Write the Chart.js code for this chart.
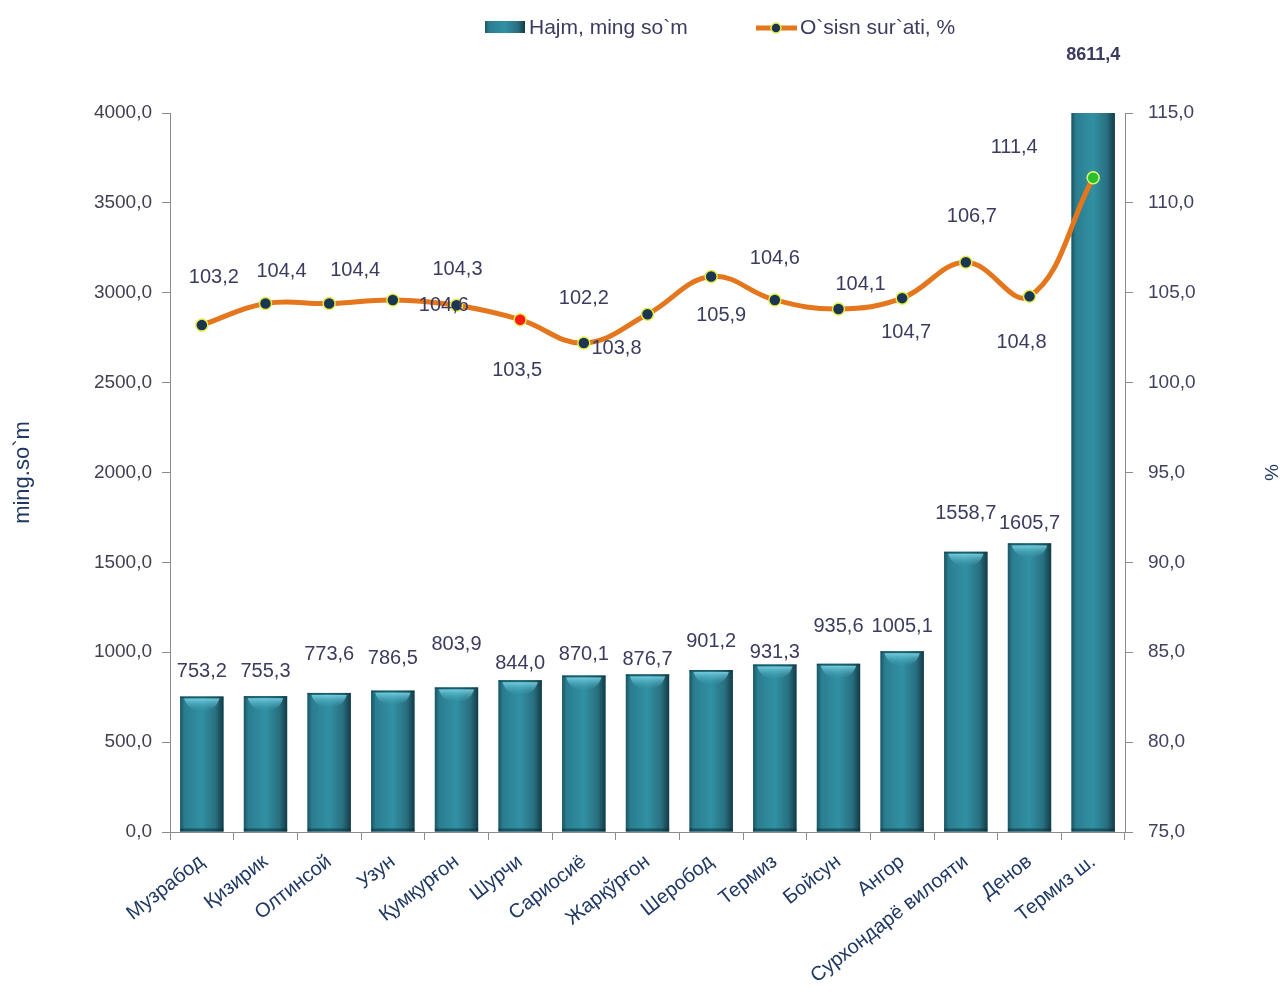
<!DOCTYPE html>
<html>
<head>
<meta charset="utf-8">
<title>Hajm va o`sish sur`ati</title>
<script src="https://cdn.jsdelivr.net/npm/chart.js@4/dist/chart.umd.min.js"></script>
<style>
    html, body { margin: 0; padding: 0; background: #fff; }
    #wrap { width: 1285px; height: 997px; position: relative; }
</style>
</head>
<body>
<div id="wrap"><canvas id="chart"></canvas></div>
<script>
// data
const categories = ["Музрабод", "Қизирик", "Олтинсой", "Узун", "Қумқурғон", "Шурчи", "Сариосиё",
    "Жарқўрғон", "Шеробод", "Термиз", "Бойсун", "Ангор", "Сурхондарё вилояти", "Денов", "Термиз ш."];
const volume = [753.2, 755.3, 773.6, 786.5, 803.9, 844.0, 870.1, 876.7, 901.2, 931.3, 935.6, 1005.1, 1558.7, 1605.7, 8611.4];
const growth = [103.2, 104.4, 104.4, 104.6, 104.3, 103.5, 102.2, 103.8, 105.9, 104.6, 104.1, 104.7, 106.7, 104.8, 111.4];
const leftTicks = [0, 500, 1000, 1500, 2000, 2500, 3000, 3500, 4000];
const rightTicks = [75, 80, 85, 90, 95, 100, 105, 110, 115];

// label placement (px from bar top / from point), like the hand-moved labels in the original
const volLabelLift = [25, 25, 38, 32, 43, 17, 21, 15, 29, 12, 37, 25, 38, 20, 0];
const growthLabelShift = [[12, -48], [16, -32], [26, -33], [51, 6], [1, -36], [-3, 51], [0, -45],
    [-31, 34], [10, 39], [0, -41], [22, -24], [4, 34], [6, -46], [-8, 46], [-79, -30]];

const fmt = v => v.toFixed(1).replace(".", ",");
const FONT = "'Liberation Sans', Arial, sans-serif";
const labelColor = "#3b3b60";
const navy = "#1f3864";

const pointFill = growth.map((v, i) => i == 5 ? "#ff1a1a" : (i == 14 ? "#2dbe2d" : "#1b3552"));
const pointEdge = growth.map((v, i) => i == 14 ? "#d8ff70" : "#e3ee4a");

function barGradient(ctx, left, right) {
    var g = ctx.createLinearGradient(left, 0, right, 0);
    g.addColorStop(0, "#1c5462");
    g.addColorStop(0.1, "#2a7d8f");
    g.addColorStop(0.5, "#3190a3");
    g.addColorStop(0.82, "#286f80");
    g.addColorStop(1, "#143a45");
    return g;
}

const barLook = {
    id: "barLook",
    afterDatasetDraw(chart, args) {
        if (args.index !== 0) return;
        const ctx = chart.ctx;
        const area = chart.chartArea;
        ctx.save();
        ctx.beginPath();
        ctx.rect(area.left, area.top, area.right - area.left, area.bottom - area.top);
        ctx.clip();
        args.meta.data.forEach(el => {
            const left = el.x - el.width / 2, right = el.x + el.width / 2;
            const top = Math.max(el.y, area.top), base = el.base;
            ctx.fillStyle = barGradient(ctx, left, right);
            ctx.fillRect(left, top, right - left, base - top);
            // darker foot
            ctx.fillStyle = "rgba(15,45,55,0.55)";
            ctx.fillRect(left, base - 3, right - left, 3);
            if (el.y >= area.top) {
                // bevel highlight on the top
                var hg = ctx.createLinearGradient(0, top + 2, 0, top + 15);
                hg.addColorStop(0, "rgba(120,210,228,0.9)");
                hg.addColorStop(1, "rgba(60,160,180,0)");
                ctx.fillStyle = hg;
                ctx.beginPath();
                ctx.moveTo(left + 4, top + 2);
                ctx.lineTo(right - 4, top + 2);
                ctx.quadraticCurveTo(right - 8, top + 15, el.x, top + 14);
                ctx.quadraticCurveTo(left + 8, top + 15, left + 4, top + 2);
                ctx.closePath();
                ctx.fill();
                ctx.fillStyle = "rgba(20,60,70,0.6)";
                ctx.fillRect(left, top, right - left, 1.5);
            }
        });
        ctx.restore();
    },
    afterDatasetsDraw(chart) {
        const ctx = chart.ctx;
        const area = chart.chartArea;
        ctx.save();
        ctx.textAlign = "center";
        ctx.textBaseline = "middle";
        ctx.fillStyle = labelColor;
        chart.getDatasetMeta(0).data.forEach((el, i) => {
            if (el.y < area.top) {
                ctx.font = "bold 18px " + FONT;
                ctx.fillText(fmt(volume[i]), el.x, area.top - 58);
            } else {
                ctx.font = "20px " + FONT;
                ctx.fillText(fmt(volume[i]), el.x, el.y - volLabelLift[i]);
            }
        });
        ctx.font = "20px " + FONT;
        chart.getDatasetMeta(1).data.forEach((el, i) => {
            ctx.fillText(fmt(growth[i]), el.x + growthLabelShift[i][0], el.y + growthLabelShift[i][1]);
        });
        ctx.restore();
    },
    afterDraw(chart) {
        // legend
        const ctx = chart.ctx;
        ctx.save();
        ctx.fillStyle = barGradient(ctx, 485, 525);
        ctx.fillRect(485, 21, 40, 12);
        ctx.font = "21px " + FONT;
        ctx.textBaseline = "middle";
        ctx.textAlign = "left";
        ctx.fillStyle = labelColor;
        ctx.fillText("Hajm, ming so`m", 529, 28);
        ctx.strokeStyle = "#e4761e";
        ctx.lineWidth = 5;
        ctx.beginPath();
        ctx.moveTo(756, 28);
        ctx.lineTo(797, 28);
        ctx.stroke();
        ctx.beginPath();
        ctx.arc(776, 28, 5, 0, Math.PI * 2);
        ctx.fillStyle = "#1b3552";
        ctx.fill();
        ctx.lineWidth = 1.5;
        ctx.strokeStyle = "#e3ee4a";
        ctx.stroke();
        ctx.fillStyle = labelColor;
        ctx.fillText("O`sisn sur`ati, %", 800, 28);
        ctx.restore();
    }
};

const ctx = document.getElementById("chart").getContext("2d");
const chart = new Chart(ctx, {
    type: "bar",
    data: {
        labels: categories,
        datasets: [{
            label: "Hajm, ming so`m",
            data: volume,
            yAxisID: "y",
            backgroundColor: "#2d889b",
            barPercentage: 0.68,
            categoryPercentage: 1,
            order: 2
        }, {
            type: "line",
            label: "O`sisn sur`ati, %",
            data: growth,
            yAxisID: "y1",
            borderColor: "#e4761e",
            borderWidth: 5,
            tension: 0.4,
            pointRadius: 6,
            pointBorderWidth: 1.5,
            pointBackgroundColor: pointFill,
            pointBorderColor: pointEdge,
            order: 1
        }]
    },
    options: {
        responsive: true,
        maintainAspectRatio: false,
        animation: false,
        layout: { padding: { top: 113, left: 0, right: 0, bottom: 0 } },
        plugins: {
            legend: { display: false },
            tooltip: { enabled: false }
        },
        scales: {
            x: {
                grid: { drawOnChartArea: false, tickLength: 8, color: "#8c8c8c", offset: true },
                border: { color: "#8c8c8c" },
                ticks: {
                    color: navy,
                    font: { family: FONT, size: 20 },
                    minRotation: 38,
                    maxRotation: 38,
                    padding: 10,
                    autoSkip: false
                },
                afterFit: s => { s.height = 165; }
            },
            y: {
                position: "left",
                min: 0,
                max: 4000,
                afterBuildTicks: s => { s.ticks = leftTicks.map(v => ({ value: v })); },
                grid: { drawOnChartArea: false, tickLength: 8, color: "#8c8c8c" },
                border: { color: "#8c8c8c" },
                ticks: {
                    color: "#404050",
                    font: { family: FONT, size: 19 },
                    padding: 10,
                    callback: v => fmt(v)
                },
                title: {
                    display: true,
                    text: "ming.so`m",
                    color: navy,
                    font: { family: FONT, size: 22 },
                    padding: { top: 10, bottom: 0 }
                },
                afterFit: s => { s.width = 170; }
            },
            y1: {
                position: "right",
                min: 75,
                max: 115,
                afterBuildTicks: s => { s.ticks = rightTicks.map(v => ({ value: v })); },
                grid: { drawOnChartArea: false, tickLength: 8, color: "#8c8c8c" },
                border: { color: "#8c8c8c" },
                ticks: {
                    color: "#404060",
                    font: { family: FONT, size: 19 },
                    padding: 15,
                    callback: v => fmt(v)
                },
                title: {
                    display: true,
                    text: "%",
                    color: navy,
                    font: { family: FONT, size: 19 },
                    padding: { top: 3, bottom: 0 }
                },
                afterFit: s => { s.width = 160; }
            }
        }
    },
    plugins: [barLook]
});
</script>
</body>
</html>
